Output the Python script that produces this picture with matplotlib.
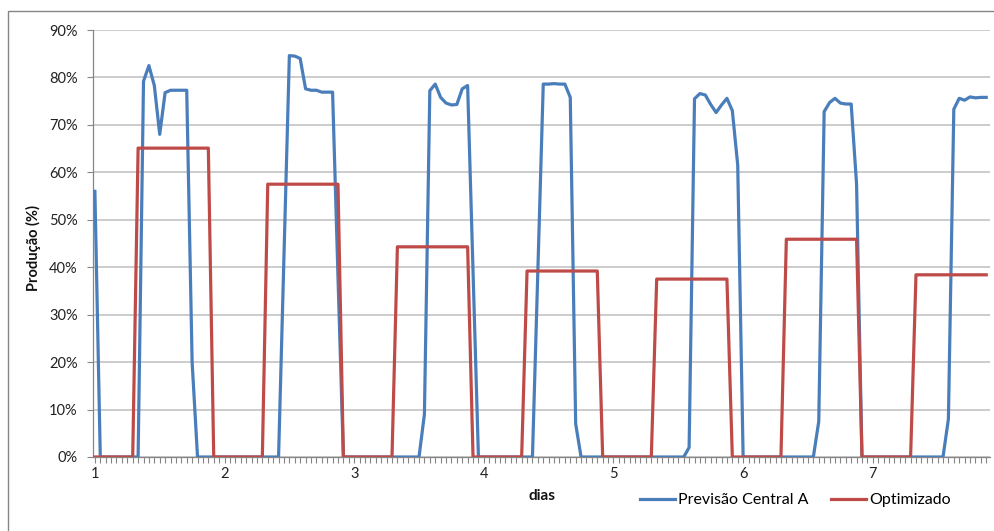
import matplotlib
matplotlib.use("Agg")
import matplotlib.pyplot as plt
from matplotlib.patches import Rectangle
from matplotlib.ticker import FixedLocator, FuncFormatter

plt.rcParams['font.family'] = ['Lato', 'DejaVu Sans']

# hourly values (%), 166 hours starting at day 1
previsao = [
    56, 0, 0, 0, 0, 0, 0, 0, 0, 79.2, 82.5, 78.3, 68.0, 76.8, 77.3, 77.3, 77.3, 77.3, 20, 0,
    0, 0, 0, 0, 0, 0, 0, 0, 0, 0, 0, 0, 0, 0, 0, 42, 84.6, 84.5, 84.0, 77.6,
    77.3, 77.3, 76.9, 76.9, 76.9, 38, 0, 0, 0, 0, 0, 0, 0, 0, 0, 0, 0, 0, 0, 0,
    0, 9, 77.2, 78.6, 75.8, 74.6, 74.2, 74.3, 77.6, 78.3, 39, 0, 0, 0, 0, 0, 0, 0, 0, 0,
    0, 0, 39, 78.6, 78.6, 78.7, 78.6, 78.6, 75.8, 7, 0, 0, 0, 0, 0, 0, 0, 0, 0, 0,
    0, 0, 0, 0, 0, 0, 0, 0, 0, 0, 2, 75.5, 76.6, 76.3, 74.3, 72.6, 74.2, 75.6, 73.0, 61.5,
    0, 0, 0, 0, 0, 0, 0, 0, 0, 0, 0, 0, 0, 0, 7.5, 72.8, 74.7, 75.6, 74.6, 74.4,
    74.4, 57.5, 0, 0, 0, 0, 0, 0, 0, 0, 0, 0, 0, 0, 0, 0, 0, 0, 8, 73.3,
    75.6, 75.2, 75.9, 75.7, 75.8, 75.8,
]
optimizado = [
    0, 0, 0, 0, 0, 0, 0, 0, 65.1, 65.1, 65.1, 65.1, 65.1, 65.1, 65.1, 65.1, 65.1, 65.1, 65.1, 65.1,
    65.1, 65.1, 0, 0, 0, 0, 0, 0, 0, 0, 0, 0, 57.5, 57.5, 57.5, 57.5, 57.5, 57.5, 57.5, 57.5,
    57.5, 57.5, 57.5, 57.5, 57.5, 57.5, 0, 0, 0, 0, 0, 0, 0, 0, 0, 0, 44.3, 44.3, 44.3, 44.3,
    44.3, 44.3, 44.3, 44.3, 44.3, 44.3, 44.3, 44.3, 44.3, 44.3, 0, 0, 0, 0, 0, 0, 0, 0, 0, 0,
    39.2, 39.2, 39.2, 39.2, 39.2, 39.2, 39.2, 39.2, 39.2, 39.2, 39.2, 39.2, 39.2, 39.2, 0, 0, 0, 0, 0, 0,
    0, 0, 0, 0, 37.5, 37.5, 37.5, 37.5, 37.5, 37.5, 37.5, 37.5, 37.5, 37.5, 37.5, 37.5, 37.5, 37.5,
    0, 0, 0, 0, 0, 0, 0, 0, 0, 0, 45.9, 45.9, 45.9, 45.9, 45.9, 45.9, 45.9, 45.9, 45.9, 45.9,
    45.9, 45.9, 45.9, 45.9, 0, 0, 0, 0, 0, 0, 0, 0, 0, 0, 38.4, 38.4, 38.4, 38.4, 38.4, 38.4,
    38.4, 38.4, 38.4, 38.4, 38.4, 38.4, 38.4, 38.4,
]
day_labels = ['1', '2', '3', '4', '5', '6', '7']
hours_per_day = 24
y_ticks = [0, 10, 20, 30, 40, 50, 60, 70, 80, 90]

W, H = 994, 531
fig = plt.figure(figsize=(W / 100, H / 100), dpi=100)
fig.patch.set_facecolor('white')

# outer chart-area border
fig.patches.append(Rectangle((8 / W, -0.1), 1.2, 1 - 11 / H + 0.1, transform=fig.transFigure,
                             fill=False, edgecolor='#868686', linewidth=1.0))

ax = fig.add_axes([93 / W, 74 / H, (990 - 93) / W, (457 - 30) / H])
x = list(range(len(previsao)))
blue = '#4A7EBB'
red = '#BE4B48'
l1, = ax.plot(x, previsao, color=blue, linewidth=2.3, solid_joinstyle='round', zorder=3)
l2, = ax.plot(x, optimizado, color=red, linewidth=2.3, solid_joinstyle='round', zorder=4)

ax.set_xlim(-0.35, 165.7)
ax.set_ylim(0, 90)
ax.yaxis.set_major_locator(FixedLocator(y_ticks))
ax.yaxis.set_major_formatter(FuncFormatter(lambda v, p: f"{int(round(v))}%"))
ax.grid(axis='y', color='#BFBFBF', linewidth=1.1, zorder=0)
ax.set_axisbelow(True)

ax.xaxis.set_major_locator(FixedLocator([i * hours_per_day for i in range(len(day_labels))]))
ax.set_xticklabels(day_labels)
ax.xaxis.set_minor_locator(FixedLocator(x))
ax.tick_params(axis='x', which='both', direction='out', length=4, width=0.8, color='#868686',
               labelsize=10.5, pad=3, labelcolor='#222222')
ax.tick_params(axis='y', which='major', direction='out', length=4, width=0.8, color='#868686',
               labelsize=10.5, pad=7, labelcolor='#222222')

for s in ['top', 'right']:
    ax.spines[s].set_visible(False)
ax.spines['left'].set_color('#868686')
ax.spines['bottom'].set_color('#868686')
ax.spines['left'].set_linewidth(0.9)
ax.spines['bottom'].set_linewidth(0.9)

fig.text(33 / W, 1 - 248 / H, 'Produção (%)', rotation=90, ha='center', va='center',
         fontsize=10.5, fontweight='bold', color='#111111')
fig.text(542 / W, 1 - 496 / H, 'dias', ha='center', va='center', fontsize=11,
         fontweight='bold', color='#111111')

fig.legend([l1, l2], ['Previsão Central A', 'Optimizado'], loc='center left',
           bbox_to_anchor=(640 / W, 1 - 500 / H), ncol=2, frameon=False, fontsize=11.5,
           handlelength=2.2, handletextpad=0.2, columnspacing=1.4, borderpad=0,
           borderaxespad=0)

fig.savefig('out.png', dpi=100)
